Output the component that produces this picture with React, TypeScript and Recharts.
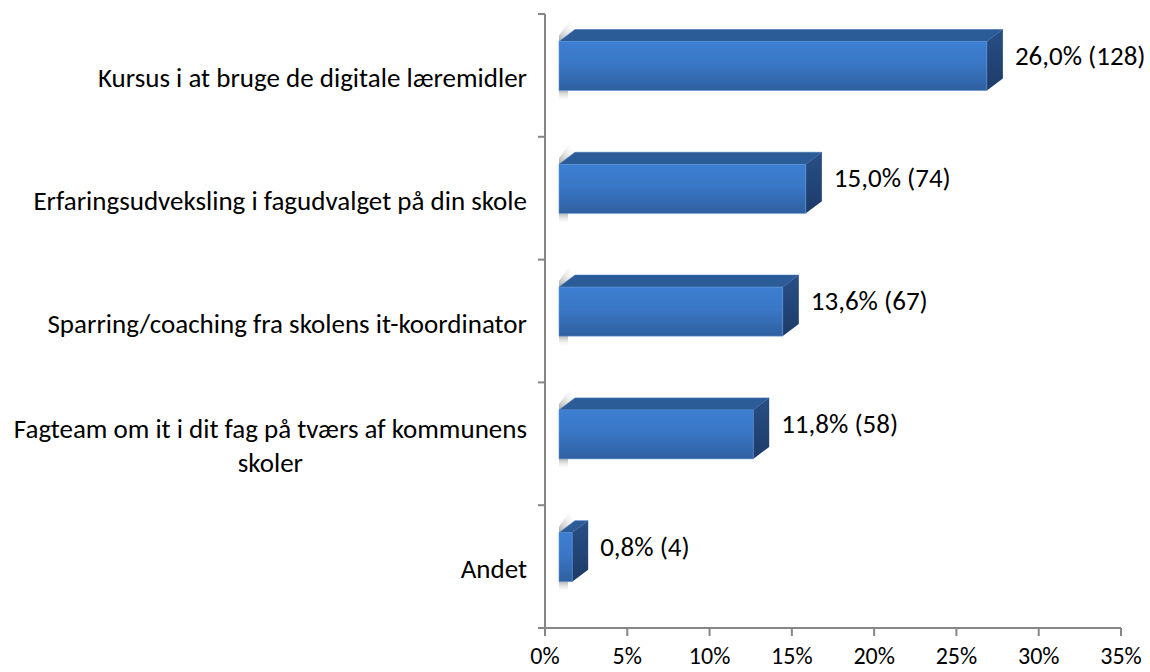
import { BarChart, Bar, XAxis, YAxis, LabelList } from "recharts";

// kategorier (linjeskift som i originalen)
const categories = [
  "Kursus i at bruge de digitale læremidler",
  "Erfaringsudveksling i fagudvalget på din skole",
  "Sparring/coaching fra skolens it-koordinator",
  "Fagteam om it i dit fag på tværs af kommunens\nskoler",
  "Andet",
];
const percents = [26.0, 15.0, 13.6, 11.8, 0.8];
const counts = [128, 74, 67, 58, 4];
const xTicks = [0, 5, 10, 15, 20, 25, 30, 35];

const data = categories.map((name, i) => ({ name, value: percents[i], count: counts[i] }));

const W = 1150;
const H = 672;
const TOP = 14;
const BOTTOM = 628;
const AXIS_X = 545;
const FONT = "Carlito, Calibri, Lato, sans-serif";
const FS = 27;
const FS_X = 24;
const BAND = (BOTTOM - TOP) / categories.length;

// 3D-forskydning
const OFF_X = 14;
const DX = 16;
const DY = 12;
const FACE_H = 49;
const LIFT = 9;

let ctx: CanvasRenderingContext2D | null = null;
function measure(s: string) {
  if (!ctx) ctx = document.createElement("canvas").getContext("2d");
  if (!ctx) return s.length * 12;
  ctx.font = `${FS}px ${FONT}`;
  return ctx.measureText(s).width;
}

const CategoryTick = (props: any) => {
  const { x, y, payload, index } = props;
  const lines: string[] = String(payload.value).split("\n");
  const lh = 34;
  const startY = y + 2 - ((lines.length - 1) * lh) / 2;
  const maxW = Math.max(...lines.map(measure));
  const multi = lines.length > 1;
  return (
    <g>
      <line x1={AXIS_X - 7} x2={AXIS_X} y1={y - BAND / 2} y2={y - BAND / 2} stroke="#868686" strokeWidth={2} />
      {index === categories.length - 1 && (
        <line x1={AXIS_X - 7} x2={AXIS_X} y1={y + BAND / 2} y2={y + BAND / 2} stroke="#868686" strokeWidth={2} />
      )}
      {lines.map((l, i) => (
        <text
          key={i}
          x={multi ? x - maxW / 2 : x}
          y={startY + i * lh}
          textAnchor={multi ? "middle" : "end"}
          dominantBaseline="central"
          fontFamily={FONT}
          fontSize={FS}
          fill="#000"
        >
          {l}
        </text>
      ))}
    </g>
  );
};

const Bar3D = (props: any) => {
  const { x, y, width, height } = props;
  const cy = y + height / 2 - LIFT;
  const fx = x + OFF_X;
  const fy = cy - FACE_H / 2;
  const fw = Math.max(width, 0);
  const fh = FACE_H;
  return (
    <g>
      <polygon
        points={`${fx},${fy} ${fx},${fy - 6} ${fx + DX - 6},${fy - DY - 8} ${fx + DX},${fy - DY}`}
        fill="url(#shadeUp)"
      />
      <rect x={fx} y={fy + fh} width={9} height={11} fill="url(#shadeDown)" />
      <polygon
        points={`${fx},${fy} ${fx + DX},${fy - DY} ${fx + fw + DX},${fy - DY} ${fx + fw},${fy}`}
        fill="#2c5c98"
        stroke="#3f72b5"
        strokeWidth={0.6}
      />
      <polygon
        points={`${fx + fw},${fy} ${fx + fw + DX},${fy - DY} ${fx + fw + DX},${fy + fh - DY} ${fx + fw},${fy + fh}`}
        fill="url(#sideGrad)"
      />
      <rect x={fx} y={fy} width={fw} height={fh} fill="url(#frontGrad)" stroke="#5a8fd4" strokeWidth={0.6} />
    </g>
  );
};

const ValueLabel = (props: any) => {
  const { x, y, width, height, index } = props;
  const cy = y + height / 2 - LIFT;
  const txt = `${percents[index].toFixed(1).replace(".", ",")}% (${counts[index]})`;
  return (
    <text
      x={x + OFF_X + width + 28}
      y={cy - 11}
      dominantBaseline="central"
      fontFamily={FONT}
      fontSize={FS}
      fill="#000"
    >
      {txt}
    </text>
  );
};

export default function App() {
  return (
    <div style={{ position: "absolute", left: 0, top: 0, background: "#fff" }}>
      <BarChart
        width={W}
        height={H}
        data={data}
        layout="vertical"
        margin={{ top: TOP, right: W - 1121, bottom: 0, left: 0 }}
        barCategoryGap={0}
      >
        <defs>
          <linearGradient id="frontGrad" x1="0" y1="0" x2="0" y2="1">
            <stop offset="0%" stopColor="#3d7fd2" />
            <stop offset="45%" stopColor="#3a77c6" />
            <stop offset="100%" stopColor="#2f60a0" />
          </linearGradient>
          <linearGradient id="sideGrad" x1="0" y1="0" x2="0" y2="1">
            <stop offset="0%" stopColor="#284f86" />
            <stop offset="100%" stopColor="#1d3b68" />
          </linearGradient>
          <linearGradient id="shadeUp" x1="0" y1="1" x2="1" y2="0">
            <stop offset="0%" stopColor="#a8a8a8" />
            <stop offset="100%" stopColor="#ffffff" stopOpacity={0} />
          </linearGradient>
          <linearGradient id="shadeDown" x1="0" y1="0" x2="0" y2="1">
            <stop offset="0%" stopColor="#b5b5b5" />
            <stop offset="100%" stopColor="#ffffff" stopOpacity={0} />
          </linearGradient>
        </defs>
        <XAxis
          type="number"
          domain={[0, 35]}
          ticks={xTicks}
          tickFormatter={(v: number) => `${v}%`}
          height={H - BOTTOM}
          axisLine={{ stroke: "#868686", strokeWidth: 2 }}
          tickLine={{ stroke: "#868686", strokeWidth: 2 }}
          tickSize={8}
          tickMargin={11}
          tick={{ fill: "#000", fontSize: FS_X, fontFamily: FONT }}
          interval={0}
        />
        <YAxis
          type="category"
          dataKey="name"
          width={AXIS_X}
          axisLine={{ stroke: "#868686", strokeWidth: 2 }}
          tickLine={false}
          tickSize={0}
          tickMargin={18}
          tick={<CategoryTick />}
          interval={0}
        />
        <Bar dataKey="value" barSize={62} shape={<Bar3D />} isAnimationActive={false}>
          <LabelList dataKey="value" content={<ValueLabel />} />
        </Bar>
      </BarChart>
    </div>
  );
}
